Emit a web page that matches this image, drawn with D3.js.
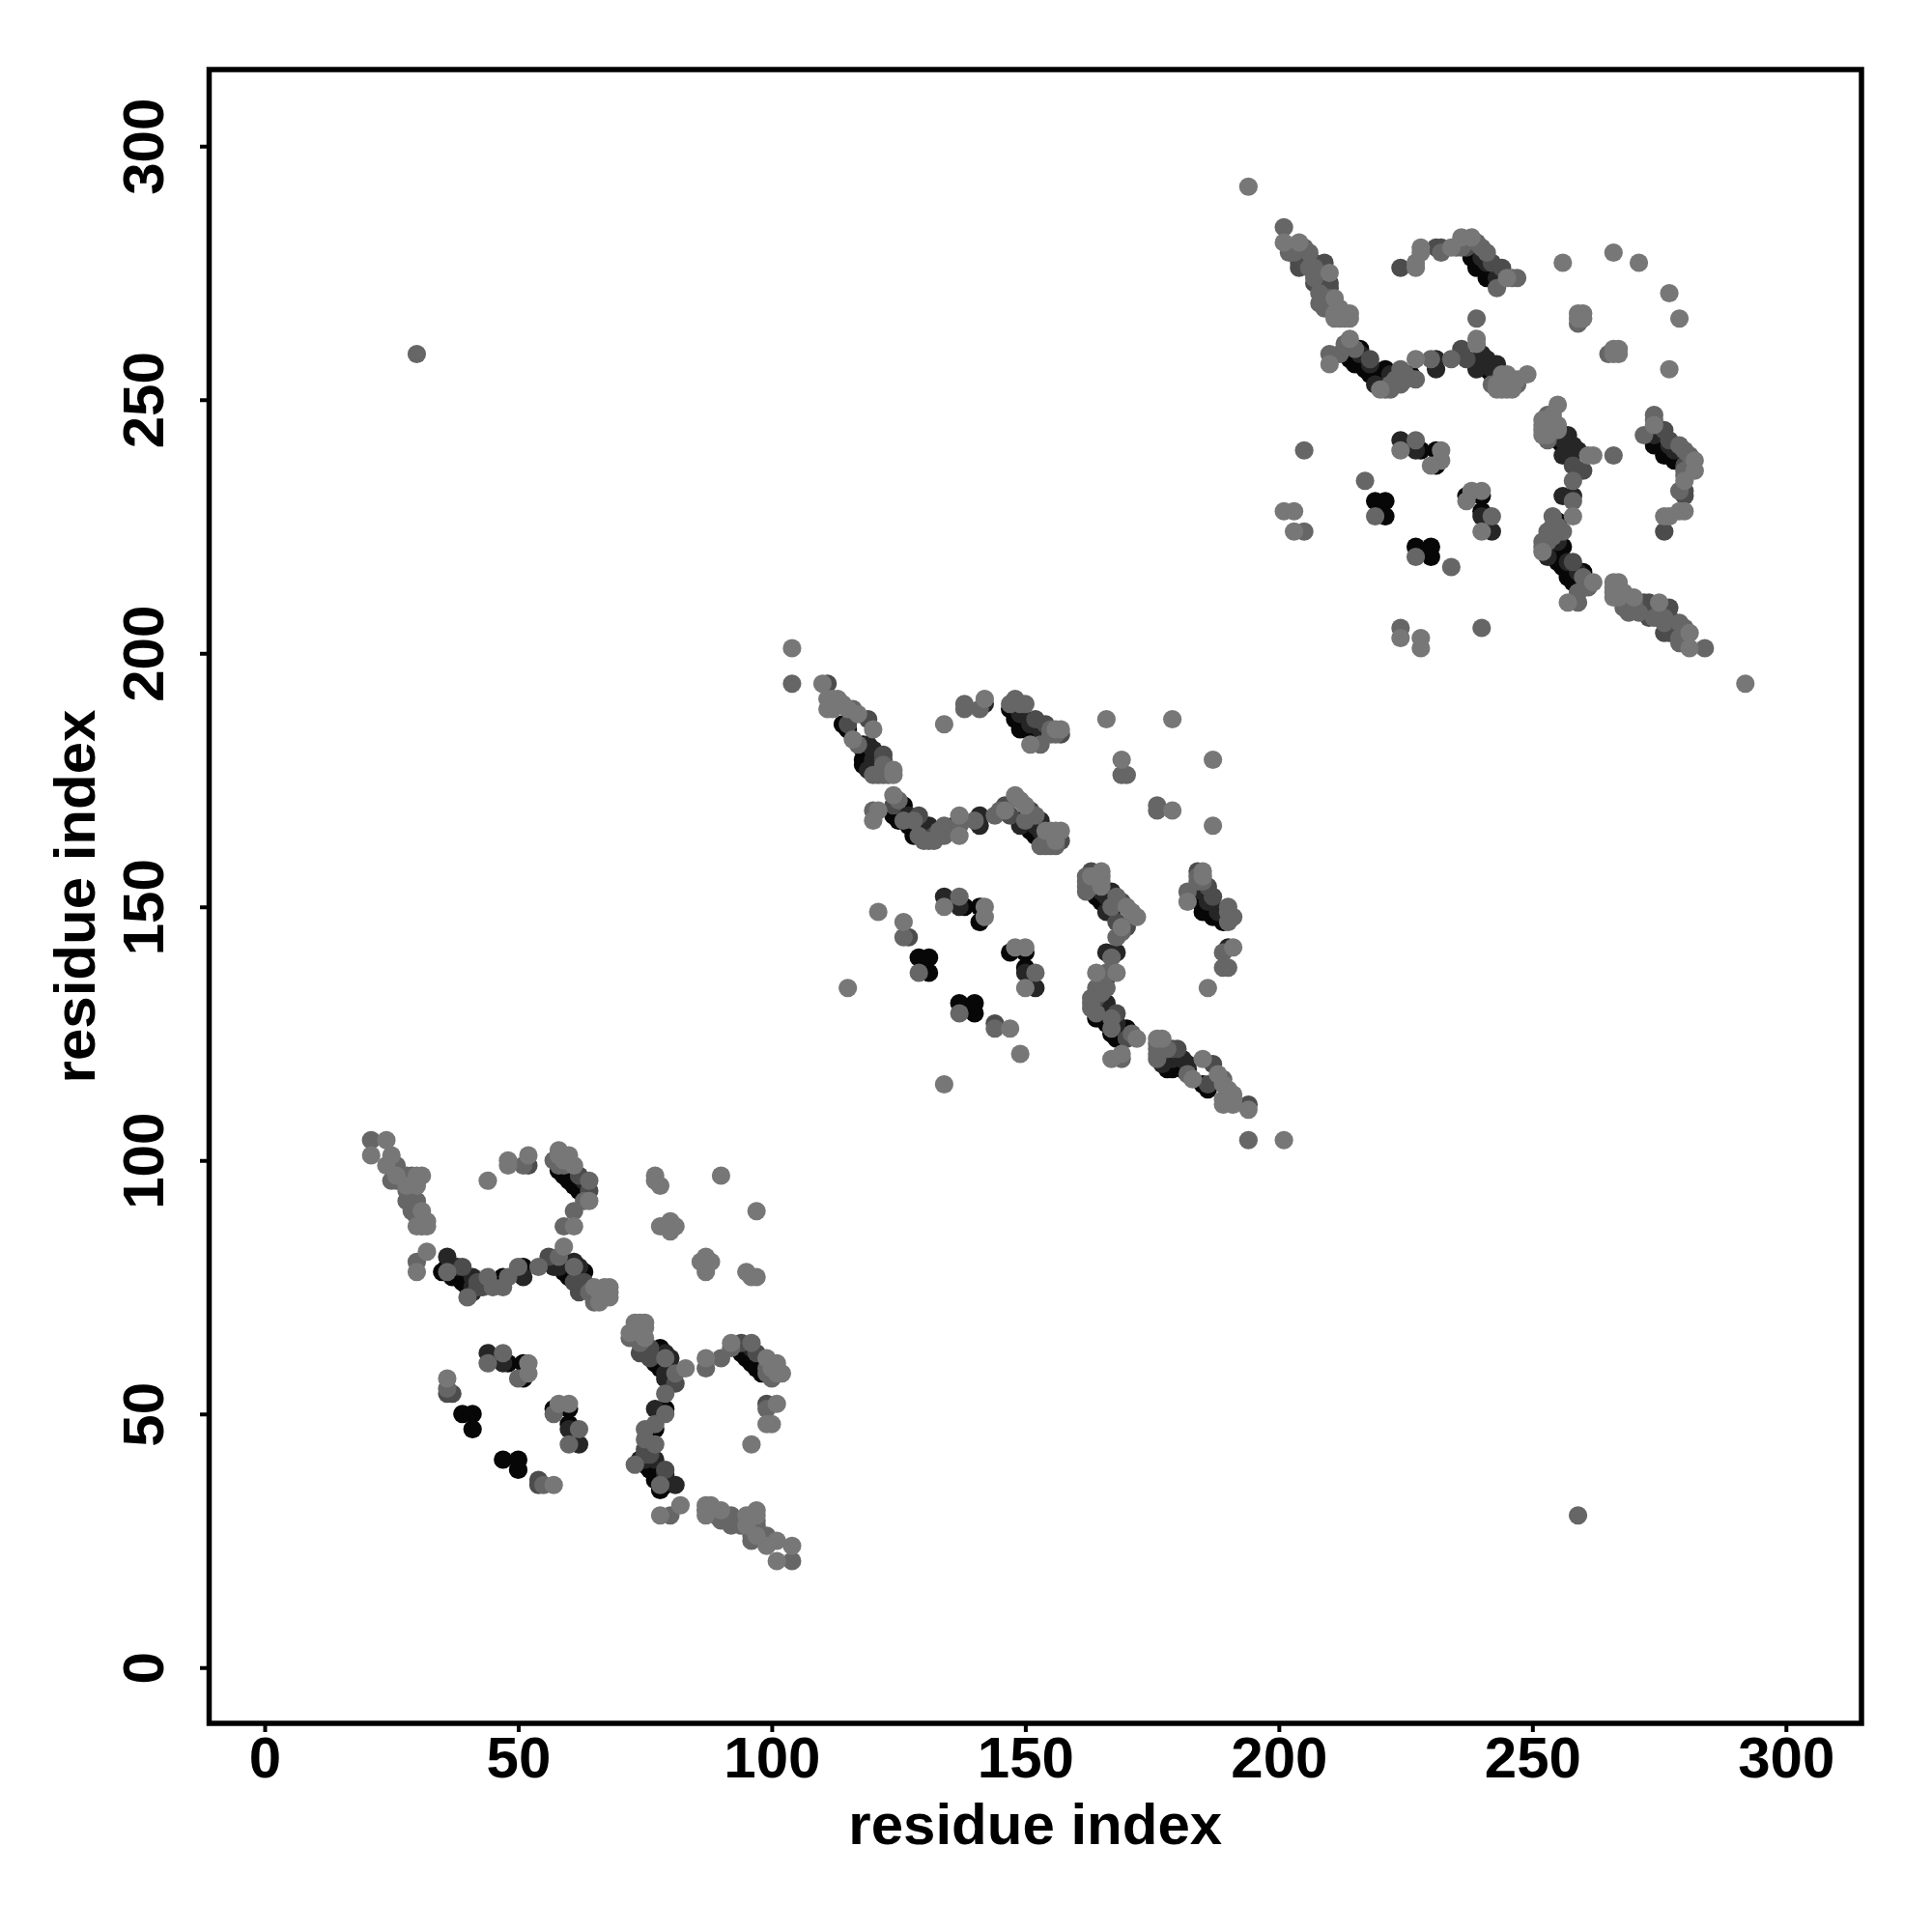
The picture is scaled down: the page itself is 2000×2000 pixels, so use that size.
<!DOCTYPE html>
<html><head><meta charset="utf-8">
<script src="https://cdnjs.cloudflare.com/ajax/libs/d3/7.9.0/d3.min.js"></script>
<style>html,body{margin:0;background:#fff}svg{display:block}text{font-family:"Liberation Sans",Arial,sans-serif;font-weight:700;fill:#000}</style>
</head><body><div id="chart"></div>
<script>
const xLabel = "residue index";
const yLabel = "residue index";
const tickValues = [0, 50, 100, 150, 200, 250, 300];
const shadeColors = ["#070707", "#262626", "#4c4c4c", "#666666", "#777777"];

// Contacts with y > x; the map is symmetric, so each one is also shown mirrored.
const contactsBlack = [[35,78],[37,77],[47,77],[51,79],[63,78],[60,77],[59,97],[61,95],[48,60],[51,60],[51,57],[39,50],[41,50],[41,47],
 [36,79],[38,78],[39,76],[40,75],[59,78],[60,78],[61,77],[62,76],[58,98],[60,96],[60,97],[62,95],[62,94],
 [126,170],[125,167],[128,165],[136,166],[129,140],[131,140],[131,137],[141,150],[141,147],[138,150],[119,179],[119,181],[148,187],[150,185],[153,184],
 [114,186],[115,185],[118,182],[118,181],[118,179],[118,178],[124,168],[125,169],[126,168],[127,166],[128,164],[129,166],[130,165],[131,164],[149,167],[150,166],[151,165],[152,164],[153,163],[147,189],[149,186],[149,185],[150,187],[151,185],[152,184],[152,183],[153,183],
 [216,260],[215,257],[218,255],[221,256],[220,253],[226,255],[239,277],[241,275],[219,230],[221,230],[221,227],[231,240],[231,237],[228,240],
 [214,258],[216,257],[217,256],[219,254],[221,254],[218,256],[220,255],[241,256],[242,255],[240,257],[243,254],[238,278],[239,276],[240,276],[241,274],[242,274],[243,273]];
const contactsDark = [[36,81],[41,77],[41,75],[51,77],[57,79],[61,80],[44,62],[47,60],[37,79],[38,79],[41,74],[58,79],[59,80],[62,79],[63,96],
 [119,182],[131,166],[141,168],[141,166],[149,166],[153,167],[134,152],[137,150],[142,190],[120,179],[120,181],[121,178],[119,177],[127,168],[130,166],[132,165],[151,168],[152,166],[153,165],[149,188],[151,186],[153,185],
 [243,274],[239,256],[231,258],[231,256],[243,257],[224,242],[227,240],[240,259],[216,259],[218,257],[222,255],[219,253],[241,258],[242,256],[240,278],[241,277],[244,275]];
const contactsMid = [[39,79],[42,75],[56,81],[63,75],[62,97],[64,94],[52,99],[37,54],[36,54],[43,76],[43,75],[42,76],[61,76],[62,74],[64,75],[63,76],
 [111,194],[115,186],[119,187],[122,180],[122,179],[124,170],[129,168],[132,164],[146,170],[147,168],[151,169],[152,187],[154,186],[157,184],[157,163],[127,144],
 [204,276],[209,277],[208,272],[210,272],[218,258],[236,260],[237,258],[231,280],[232,280],[237,280],[242,277],[244,276],[224,276],[205,278],[204,277],[207,277],[208,275],[207,273],[209,274],[210,273],[209,272],[209,270]];
const contactsGrey = [[30,259],[21,104],[25,96],[29,97],[28,92],[30,80],[44,77],[40,73],[45,75],[47,75],[48,77],[50,79],[54,79],[58,81],[61,79],[65,74],[36,78],[57,100],[60,100],[64,96],[63,92],[61,90],[59,87],[44,60],[47,62],[50,57],[51,99],[36,55],[29,90],[30,92],
 [26,99],[27,96],[27,97],[28,97],[29,95],[29,93],[28,94],[29,92],[30,90],[30,89],[31,88],[31,87],[26,96],[64,74],[65,72],[66,73],[58,99],[59,99],
 [104,194],[116,189],[117,182],[121,176],[122,176],[120,169],[126,167],[130,163],[131,163],[134,166],[134,164],[137,166],[140,167],[144,168],[150,167],[153,162],[156,162],[155,164],[138,190],[138,189],[141,189],[148,191],[147,190],[150,190],[155,184],[153,182],[126,144],[129,137],[137,152],[169,176],[170,176],
 [120,176],[122,178],[123,176],[123,177],[125,171],[128,167],[129,164],[132,163],[133,164],[133,165],[155,163],[155,162],[154,163],[154,162],[152,168],[145,169],[149,190],[155,185],[156,184],
 [201,284],[206,279],[202,279],[210,259],[212,259],[207,274],[208,269],[222,253],[224,256],[223,254],[227,254],[230,258],[234,258],[242,253],[247,253],[232,279],[240,280],[243,272],[247,274],[239,266],[205,240],[217,234],[205,224],[219,227],[227,242],[259,265],
 [203,280],[205,280],[206,276],[207,275],[207,276],[210,270],[210,268],[209,268],[203,279],[208,271],[213,261],[215,260],[224,253],[225,255],[225,254],[222,252],[221,252],[235,280],[236,280],[241,279],[239,281],[246,274]];
const contactsLight = [[24,104],[21,101],[25,101],[24,99],[31,97],[30,95],[28,95],[31,90],[30,87],[32,88],[32,87],[32,82],[30,78],[59,83],[67,73],[66,72],[68,75],[58,102],[60,101],[64,92],[61,87],[44,96],[48,100],[48,99],[52,101],[52,60],[52,58],[36,57],[77,97],[77,96],[78,95],[90,97],[78,87],[80,88],[81,87],[80,86],
 [26,97],[30,97],[65,75],[66,74],[67,75],[67,74],[68,74],[68,73],[58,101],[59,100],[61,99],
 [104,201],[110,194],[111,191],[111,189],[113,191],[112,189],[120,185],[116,183],[124,177],[124,176],[124,172],[121,169],[120,167],[137,168],[137,164],[148,172],[149,171],[154,165],[157,165],[134,186],[142,191],[157,185],[151,182],[166,187],[179,187],[169,179],[121,149],[126,147],[134,150],[142,150],[142,148],[115,134],
 [112,191],[114,190],[115,189],[117,188],[155,165],[156,165],[156,164],[156,163],[150,170],[146,169],[156,185],
 [194,292],[201,281],[204,281],[210,275],[211,270],[211,266],[214,267],[214,266],[214,262],[210,257],[220,252],[227,258],[239,262],[239,261],[244,255],[245,252],[249,255],[227,276],[227,277],[228,280],[228,279],[234,280],[236,282],[238,282],[245,274],[256,277],[266,279],[271,277],[259,267],[260,267],[260,266],[259,266],[201,228],[203,228],[203,224],[224,240],[232,240],[232,238],[230,237],
 [212,268],[212,267],[211,267],[212,266],[213,266],[213,267],[243,253],[244,253],[245,253],[246,253],[246,252],[247,254],[244,252],[243,252],[246,254],[245,255]];
const contactTiers = [contactsBlack, contactsDark, contactsMid, contactsGrey, contactsLight];

const W = 2000, H = 2000;
const frame = {left: 216.5, right: 1927, top: 72, bottom: 1784};
const svg = d3.select("#chart").append("svg").attr("width", W).attr("height", H);
svg.append("rect").attr("width", W).attr("height", H).attr("fill", "#fff");

const x = d3.scaleLinear().domain([-10.95, 314.9]).range([frame.left, frame.right]);
const y = d3.scaleLinear().domain([-11.0, 315.1]).range([frame.bottom, frame.top]);

contactTiers.forEach((tier, i) => {
  const points = tier.flatMap(([a, b]) => [[a, b], [b, a]]);
  svg.append("g").selectAll("circle").data(points).join("circle")
    .attr("cx", d => x(d[0])).attr("cy", d => y(d[1])).attr("r", 9.6)
    .attr("fill", shadeColors[i]);
});

const gx = svg.append("g").attr("transform", `translate(0,${frame.bottom})`)
  .call(d3.axisBottom(x).tickValues(tickValues).tickSize(9).tickSizeOuter(0).tickFormat(d3.format("d")));
const gy = svg.append("g").attr("transform", `translate(${frame.left},0)`)
  .call(d3.axisLeft(y).tickValues(tickValues).tickSize(9.5).tickSizeOuter(0).tickFormat(d3.format("d")));
[gx, gy].forEach(g => {
  g.select(".domain").remove();
  g.selectAll("line").attr("stroke", "#000").attr("stroke-width", 4);
  g.selectAll("text").style("font-family", '"Liberation Sans",Arial,sans-serif').style("font-weight", 700).style("font-size", "60px").attr("fill", "#000");
});
gx.selectAll("text").attr("y", 55.5).attr("dy", 0).attr("text-anchor", "middle");
gy.selectAll("text").attr("x", 0).attr("dy", 0).attr("text-anchor", "middle")
  .attr("transform", "translate(-48,0) rotate(-90)");

svg.append("rect").attr("x", frame.left).attr("y", frame.top)
  .attr("width", frame.right - frame.left).attr("height", frame.bottom - frame.top)
  .attr("fill", "none").attr("stroke", "#000").attr("stroke-width", 5.5);

svg.append("text").attr("x", (frame.left + frame.right) / 2).attr("y", 1909).attr("text-anchor", "middle")
  .style("font-size", "60px").text(xLabel);
svg.append("text").attr("transform", `translate(98,${(frame.top + frame.bottom) / 2}) rotate(-90)`).attr("text-anchor", "middle")
  .style("font-size", "60px").text(yLabel);
</script></body></html>
